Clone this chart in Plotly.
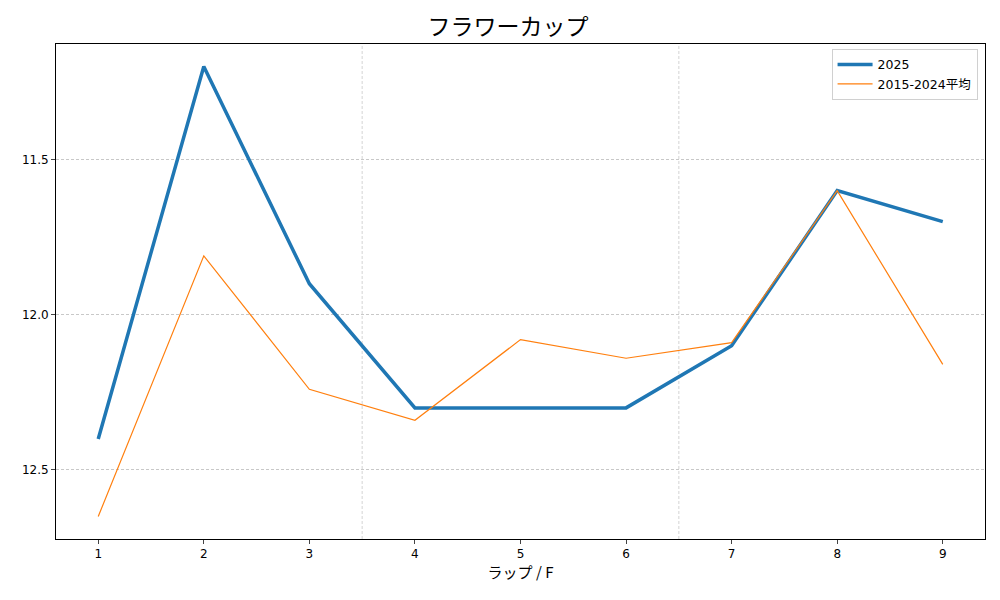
import plotly.graph_objects as go

laps = [1, 2, 3, 4, 5, 6, 7, 8, 9]
y2025 = [12.4, 11.2, 11.9, 12.3, 12.3, 12.3, 12.1, 11.6, 11.7]
yavg = [12.65, 11.81, 12.24, 12.34, 12.08, 12.14, 12.09, 11.6, 12.16]
yticks = [11.5, 12.0, 12.5]
vlines = [3.5, 6.5]

font = "DejaVu Sans, Noto Sans CJK JP"
jfont = "Noto Sans CJK JP"
fig = go.Figure()
fig.add_trace(go.Scatter(x=laps, y=y2025, mode="lines", name="2025",
                         line=dict(color="#1f77b4", width=3.5)))
fig.add_trace(go.Scatter(x=laps, y=yavg, mode="lines", name="2015-2024平均",
                         line=dict(color="#ff7f0e", width=1.2)))
for v in vlines:
    fig.add_vline(x=v, line=dict(color="#c8c8c8", width=0.8, dash="3px,2px"), layer="below")

fig.update_layout(
    width=1000, height=600,
    margin=dict(l=48, r=23, t=36, b=69, autoexpand=False),
    paper_bgcolor="white", plot_bgcolor="white",
    font=dict(family=font, size=12, color="black"),
    title=dict(text="フラワーカップ", x=0.5, xanchor="center", y=0.968, yanchor="middle",
               font=dict(size=23, family=jfont)),
    showlegend=True,
    legend=dict(x=0.992, y=0.99, xanchor="right", yanchor="top",
                bgcolor="rgba(255,255,255,0.8)", bordercolor="#d0d0d0", borderwidth=1,
                font=dict(size=12.5), itemwidth=35, tracegroupgap=0),
    xaxis=dict(range=[0.6, 9.4], tickvals=laps, ticks="outside", ticklen=4,
               showline=True, linecolor="black", linewidth=1, mirror=True,
               showgrid=False, zeroline=False,
               title=dict(text="ラップ / F", font=dict(size=15, family=jfont), standoff=6)),
    yaxis=dict(range=[12.7225, 11.1275], tickvals=yticks, ticktext=["11.5", "12.0", "12.5"],
               ticks="outside", ticklen=4,
               showline=True, linecolor="black", linewidth=1, mirror=True,
               showgrid=True, gridcolor="#c8c8c8", gridwidth=0.8, griddash="3px,2px",
               zeroline=False),
)
fig.write_html("out.html")
